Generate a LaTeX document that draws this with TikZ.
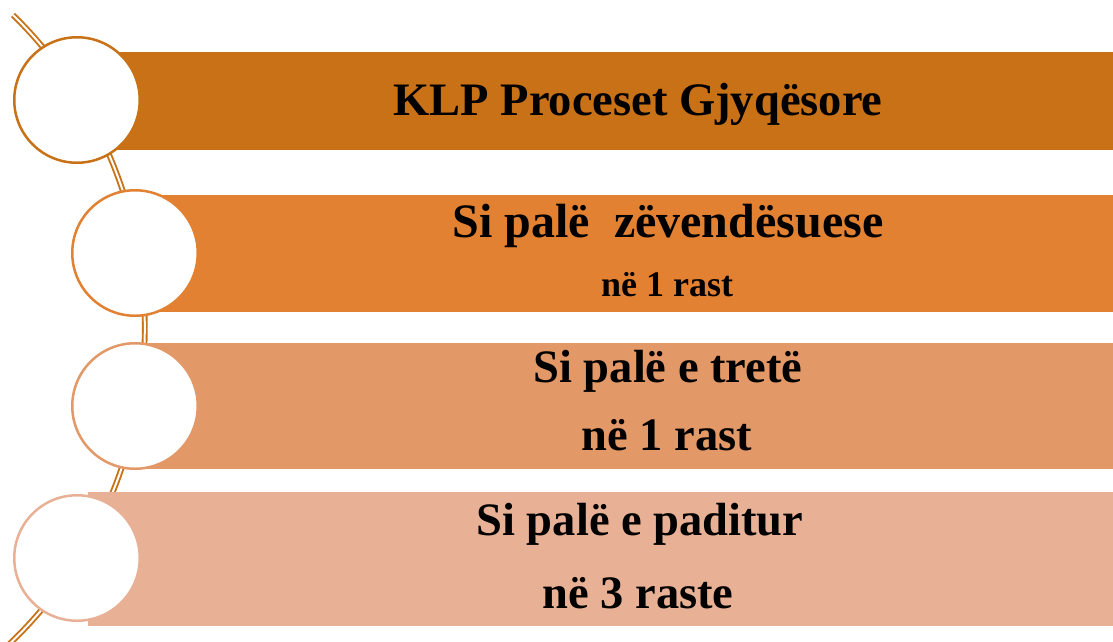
\documentclass[tikz,border=0pt]{standalone}
\usepackage{fontspec}
\setmainfont{Liberation Serif}
\definecolor{cA}{HTML}{C87117}
\definecolor{cB}{HTML}{E18131}
\definecolor{cC}{HTML}{E39867}
\definecolor{cD}{HTML}{E8B196}
\begin{document}
\begin{tikzpicture}[x=1pt,y=-1pt,
  bar/.style={rectangle, draw=none, inner sep=0pt, outer sep=0pt, anchor=north west},
  ring/.style={circle, fill=white, line width=2.5pt, minimum size=125.5pt, inner sep=0pt},
  big/.style={font=\bfseries\fontsize{46.5}{50}\selectfont, anchor=base, inner sep=0pt},
  small/.style={font=\bfseries\fontsize{36}{40}\selectfont, anchor=base, inner sep=0pt},
  spine/.style={draw=cA, line width=1.9pt, double=white, double distance=2pt}]
\useasboundingbox (0,0) rectangle (1113,641);
% decorative arc
\draw[spine] (13,15) arc[start angle=-45.7, end angle=48, radius=437];
% bars
\node[bar, fill=cA, minimum width=1025pt, minimum height=98pt]  (b1) at (88,52)  {};
\node[bar, fill=cB, minimum width=967pt,  minimum height=117pt] (b2) at (146,195) {};
\node[bar, fill=cC, minimum width=967pt,  minimum height=126pt] (b3) at (146,343) {};
\node[bar, fill=cD, minimum width=1025pt, minimum height=134pt] (b4) at (88,492) {};
% circles
\node[ring, draw=cA] (c1) at (77,100) {};
\node[ring, draw=cB] (c2) at (135,253) {};
\node[ring, draw=cC] (c3) at (135,406) {};
\node[ring, draw=cD] (c4) at (77,558) {};
% texts
\node[big] (t1) at (638,115) {KLP Proceset Gjyqësore};
\node[big, font=\bfseries\fontsize{48}{50}\selectfont] (t2a) at (668,237) {Si palë\ \ zëvendësuese};
\node[small] (t2b) at (667,296) {në 1 rast};
\node[big] (t3a) at (668,382) {Si palë e tretë};
\node[big] (t3b) at (667,450) {në 1 rast};
\node[big] (t4a) at (640,535) {Si palë e paditur};
\node[big] (t4b) at (638,608) {në 3 raste};
\end{tikzpicture}
\end{document}
